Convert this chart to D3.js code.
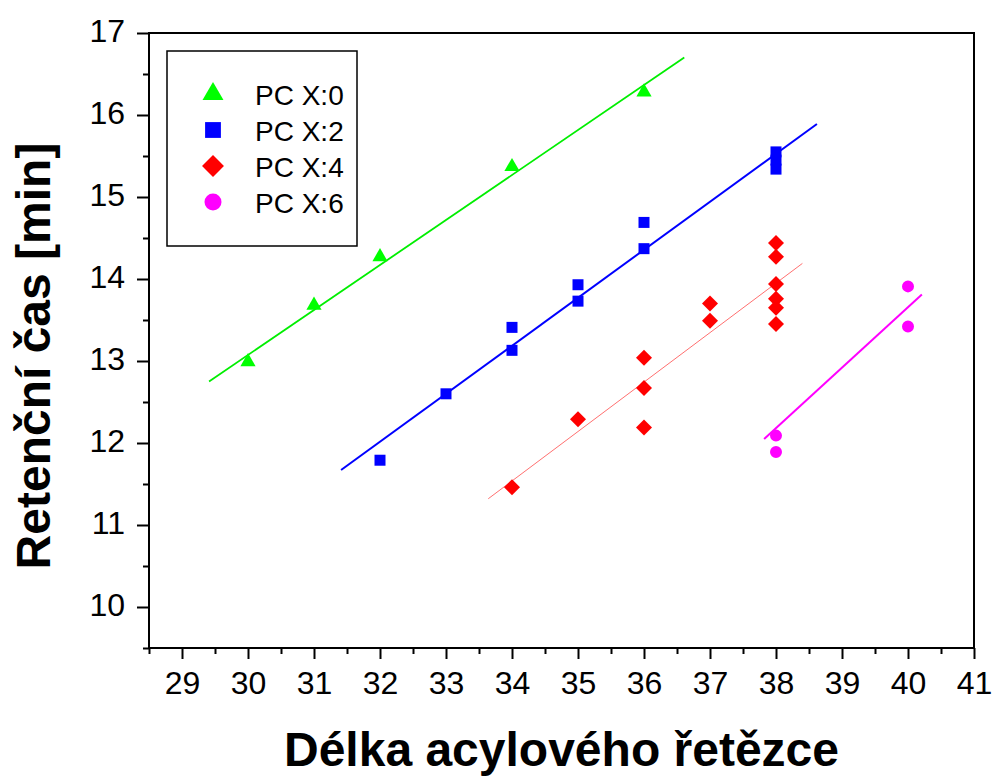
<!DOCTYPE html>
<html>
<head>
<meta charset="utf-8">
<script src="https://cdn.jsdelivr.net/npm/d3@7/dist/d3.min.js"></script>
<style>
  body { margin: 0; background: #fff; }
  text { font-family: "Liberation Sans", Arial, sans-serif; }
</style>
</head>
<body>
<div id="chart"></div>
<script>
// series data
const x0 = [30, 31, 32, 34, 36];
const y0 = [12.99, 13.68, 14.27, 15.37, 16.28];
const x2 = [32, 33, 34, 34, 35, 35, 36, 36, 38, 38, 38];
const y2 = [11.79, 12.6, 13.13, 13.41, 13.73, 13.93, 14.37, 14.69, 15.34, 15.45, 15.55];
const x4 = [34, 35, 36, 36, 36, 37, 37, 38, 38, 38, 38, 38, 38];
const y4 = [11.46, 12.29, 12.19, 12.67, 13.04, 13.49, 13.70, 13.45, 13.65, 13.76, 13.94, 14.27, 14.44];
const x6 = [38, 38, 40, 40];
const y6 = [12.09, 11.89, 13.91, 13.42];

// linear fit segments (start/end)
const fit0X = [29.41, 36.61], fit0Y = [12.75, 16.70];
const fit2X = [31.41, 38.62], fit2Y = [11.67, 15.89];
const fit4X = [33.64, 38.40], fit4Y = [11.32, 14.19];
const fit6X = [37.82, 40.21], fit6Y = [12.05, 13.81];

const seriesNames = ["PC X:0", "PC X:2", "PC X:4", "PC X:6"];
const xTicks = [29, 30, 31, 32, 33, 34, 35, 36, 37, 38, 39, 40, 41];
const yTicks = [10, 11, 12, 13, 14, 15, 16, 17];

const W = 994, H = 778;
const margin = {top: 33, right: 20, bottom: 130, left: 149};
const width = 974 - margin.left, height = 648 - margin.top;

const svg = d3.select("#chart").append("svg")
  .attr("width", W).attr("height", H);

const g = svg.append("g").attr("transform", `translate(${margin.left},${margin.top})`);

const x = d3.scaleLinear().domain([28.5, 41]).range([0, width]);
const y = d3.scaleLinear().domain([9.5, 17]).range([height, 0]);

// minor ticks
g.append("g").attr("transform", `translate(0,${height})`)
  .call(d3.axisBottom(x).tickValues(d3.range(28.5, 41, 1)).tickSize(6).tickFormat(""))
  .call(a => a.select(".domain").remove());
g.append("g")
  .call(d3.axisLeft(y).tickValues(d3.range(9.5, 17, 1)).tickSize(6).tickFormat(""))
  .call(a => a.select(".domain").remove());

// major ticks
const xAxis = g.append("g").attr("transform", `translate(0,${height})`)
  .call(d3.axisBottom(x).tickValues(xTicks).tickSize(11).tickPadding(12).tickFormat(d3.format("d")));
xAxis.select(".domain").remove();
xAxis.selectAll("text").attr("font-size", 32).attr("fill", "#000")
  .attr("font-family", "'Liberation Sans', Arial, sans-serif");

const yAxis = g.append("g")
  .call(d3.axisLeft(y).tickValues(yTicks).tickSize(12).tickPadding(12).tickFormat(d3.format("d")));
yAxis.select(".domain").remove();
yAxis.selectAll("text").attr("font-size", 32).attr("fill", "#000").attr("dy", "0.28em")
  .attr("font-family", "'Liberation Sans', Arial, sans-serif");

g.selectAll(".tick line").attr("stroke", "#000").attr("stroke-width", 2);

// frame
g.append("rect").attr("x", 0).attr("y", 0).attr("width", width).attr("height", height)
  .attr("fill", "none").attr("stroke", "#000").attr("stroke-width", 2);

// fit lines
const fits = [
  {X: fit0X, Y: fit0Y, color: "#00ee00", w: 1.8},
  {X: fit2X, Y: fit2Y, color: "#0000ff", w: 2},
  {X: fit4X, Y: fit4Y, color: "#ff7070", w: 1},
  {X: fit6X, Y: fit6Y, color: "#ff00ff", w: 2}
];
const line = d3.line().x(d => x(d.x)).y(d => y(d.y));
fits.forEach(f => {
  g.append("path")
    .datum(f.X.map((xi, i) => ({x: xi, y: f.Y[i]})))
    .attr("fill", "none").attr("stroke", f.color).attr("stroke-width", f.w)
    .attr("d", line);
});

// symbols
const diamond = {
  draw(ctx, size) {
    const r = Math.sqrt(size / 2);
    ctx.moveTo(0, -r); ctx.lineTo(r, 0); ctx.lineTo(0, r); ctx.lineTo(-r, 0); ctx.closePath();
  }
};
const series = [
  {X: x0, Y: y0, color: "#00ff00", type: d3.symbolTriangle, size: 100, legSize: 190},
  {X: x2, Y: y2, color: "#0000ff", type: d3.symbolSquare, size: 121, legSize: 250},
  {X: x4, Y: y4, color: "#ff0000", type: diamond, size: 128, legSize: 240},
  {X: x6, Y: y6, color: "#ff00ff", type: d3.symbolCircle, size: 113, legSize: 227}
];
series.forEach(s => {
  g.selectAll(null)
    .data(s.X.map((xi, i) => ({x: xi, y: s.Y[i]})))
    .enter().append("path")
    .attr("transform", d => `translate(${x(d.x)},${y(d.y)})`)
    .attr("d", d3.symbol().type(s.type).size(s.size))
    .attr("fill", s.color);
});

// legend
const leg = svg.append("g").attr("transform", "translate(167,51)");
leg.append("rect").attr("width", 190).attr("height", 195)
  .attr("fill", "#fff").attr("stroke", "#000").attr("stroke-width", 1.5);
series.forEach((s, i) => {
  const cy = 43 + i * 36;
  leg.append("path")
    .attr("transform", `translate(46,${cy})`)
    .attr("d", d3.symbol().type(s.type).size(s.legSize))
    .attr("fill", s.color);
  leg.append("text").attr("x", 88).attr("y", cy + 11)
    .attr("font-size", 28).attr("fill", "#000").text(seriesNames[i]);
});

// axis titles
svg.append("text")
  .attr("x", margin.left + width / 2).attr("y", 766)
  .attr("text-anchor", "middle").attr("font-size", 48).attr("font-weight", "bold")
  .text("Délka acylového řetězce");

svg.append("text")
  .attr("transform", "translate(50,356) rotate(-90)")
  .attr("text-anchor", "middle").attr("font-size", 48).attr("font-weight", "bold")
  .text("Retenční čas [min]");
</script>
</body>
</html>
